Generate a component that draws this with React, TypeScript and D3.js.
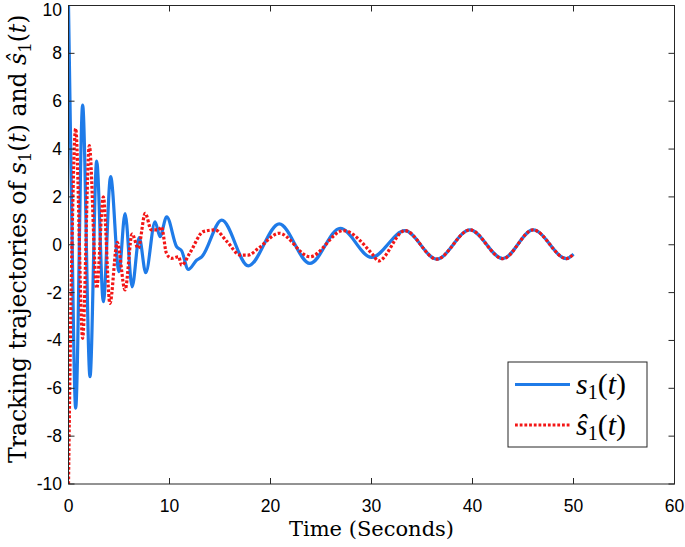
import React from "react";
import * as d3 from "d3";

const xTicks = [0, 10, 20, 30, 40, 50, 60];
const yTicks = [-10, -8, -6, -4, -2, 0, 2, 4, 6, 8, 10];

// s1(t) key samples (time, value)
const tS = [0, 0.3, 0.71, 1.4, 2.13, 2.79, 3.45, 4.17, 5.0, 5.6, 6.3, 7.0, 7.65, 8.57, 9.06, 9.72, 10.7, 11.2, 11.86, 12.7, 13.2, 15.17, 17.8, 20.87, 23.9, 26.9, 30.0, 33.3, 36.45, 39.75, 43.0, 46.0, 49.3, 50];
const vS = [10, 1.8, -6.83, 5.84, -5.51, 3.5, -2.38, 2.85, -1.12, 1.3, -1.76, 0.3, -1.17, 0.96, 0.34, 1.17, -0.08, -0.25, -1.03, -0.64, -0.5, 1.03, -0.88, 0.87, -0.78, 0.69, -0.53, 0.59, -0.6, 0.62, -0.58, 0.62, -0.58, -0.39];

// s1-hat(t) key samples
const tH = [0, 0.3, 0.71, 1.4, 2.06, 2.79, 3.45, 4.1, 4.83, 5.6, 6.3, 6.9, 7.6, 8.2, 8.9, 9.2, 9.7, 10.2, 10.9, 11.2, 12.0, 13.35, 14.5, 15.7, 17.0, 17.8, 18.8, 20.87, 23.9, 27.2, 30.2, 30.67, 33.3, 36.45, 39.75, 43.0, 46.0, 49.3, 50];
const vH = [-10, -1, 4.86, -3.91, 4.14, -1.82, 2.0, -2.45, 0.1, -1.89, 0.45, -0.15, 1.31, 0.62, 0.62, 0.75, -0.36, -0.57, -0.5, -0.85, -0.36, 0.55, 0.62, 0.13, -0.43, -0.43, -0.15, 0.48, -0.5, 0.59, -0.45, -0.68, 0.59, -0.6, 0.62, -0.58, 0.62, -0.58, -0.39];

const W = 685, H = 547;
const L = 68.5, R = 674.5, T = 5.5, B = 484;
const BLUE = "#1f7be8";
const RED = "#f31616";
const AX = "#262626";

export default function App() {
  const x = d3.scaleLinear().domain([0, 60]).range([L, R]);
  const y = d3.scaleLinear().domain([-10, 10]).range([B, T]);
  const line = d3
    .line<[number, number]>()
    .x((d) => x(d[0]))
    .y((d) => y(d[1]))
    .curve(d3.curveMonotoneX);
  const sData = tS.map((t, i) => [t, vS[i]] as [number, number]);
  const hData = tH.map((t, i) => [t, vH[i]] as [number, number]);
  const tick = 6;
  const serif = "DejaVu Serif, serif";
  const sans = "Liberation Sans, Arial, Helvetica, sans-serif";
  const lserif = "Liberation Serif, Times New Roman, serif";
  return (
    <div style={{ position: "absolute", left: 0, top: 0 }}>
      <svg width={W} height={H} style={{ display: "block", background: "#fff" }}>
        <defs>
          <clipPath id="clip">
            <rect x={L} y={T} width={R - L} height={B - T} />
          </clipPath>
        </defs>
        <g clipPath="url(#clip)">
          <path d={line(sData) || ""} fill="none" stroke={BLUE} strokeWidth={3.2} strokeLinejoin="round" />
          <path d={line(hData) || ""} fill="none" stroke={RED} strokeWidth={3.2} strokeDasharray="2.8,1.9" />
        </g>
        <rect x={L} y={T} width={R - L} height={B - T} fill="none" stroke={AX} strokeWidth={1} />
        {xTicks.map((v) => (
          <g key={"x" + v}>
            <line x1={x(v)} x2={x(v)} y1={B} y2={B - tick} stroke={AX} />
            <line x1={x(v)} x2={x(v)} y1={T} y2={T + tick} stroke={AX} />
            <text x={x(v)} y={511.5} textAnchor="middle" fontFamily={sans} fontSize={17.5} fill="#000">
              {v}
            </text>
          </g>
        ))}
        {yTicks.map((v) => (
          <g key={"y" + v}>
            <line x1={L} x2={L + tick} y1={y(v)} y2={y(v)} stroke={AX} />
            <line x1={R} x2={R - tick} y1={y(v)} y2={y(v)} stroke={AX} />
            <text x={62} y={Math.max(y(v) + 6, 16)} textAnchor="end" fontFamily={sans} fontSize={17.5} fill="#000">
              {v}
            </text>
          </g>
        ))}
        <text x={(L + R) / 2} y={536} textAnchor="middle" fontFamily={serif} fontSize={21} fill="#000">
          Time (Seconds)
        </text>
        <text
          transform={`translate(26, ${(T + B) / 2 - 6}) rotate(-90)`}
          textAnchor="middle"
          fontFamily={serif}
          fontSize={23.5}
          fill="#000"
        >
          Tracking trajectories of <tspan fontStyle="italic">s</tspan>
          <tspan fontSize={16.5} dy={4.5}>1</tspan>
          <tspan dy={-4.5}>(</tspan>
          <tspan fontStyle="italic">t</tspan>)  and  <tspan fontStyle="italic">ŝ</tspan>
          <tspan fontSize={16.5} dy={4.5}>1</tspan>
          <tspan dy={-4.5}>(</tspan>
          <tspan fontStyle="italic">t</tspan>)
        </text>
        <rect x={508} y={362} width={139} height={85} fill="#fff" stroke={AX} strokeWidth={1} />
        <line x1={515} x2={570} y1={384.5} y2={384.5} stroke={BLUE} strokeWidth={3.2} />
        <line x1={515} x2={570} y1={425} y2={425} stroke={RED} strokeWidth={3.2} strokeDasharray="2.8,1.9" />
        <text x={576} y={394} fontFamily={lserif} fontSize={30} fill="#000">
          <tspan fontStyle="italic">s</tspan>
          <tspan fontSize={20} dy={5}>1</tspan>
          <tspan dy={-5}>(</tspan>
          <tspan fontStyle="italic">t</tspan>)
        </text>
        <text x={576} y={435} fontFamily={lserif} fontSize={30} fill="#000">
          <tspan fontStyle="italic">ŝ</tspan>
          <tspan fontSize={20} dy={5}>1</tspan>
          <tspan dy={-5}>(</tspan>
          <tspan fontStyle="italic">t</tspan>)
        </text>
      </svg>
    </div>
  );
}
